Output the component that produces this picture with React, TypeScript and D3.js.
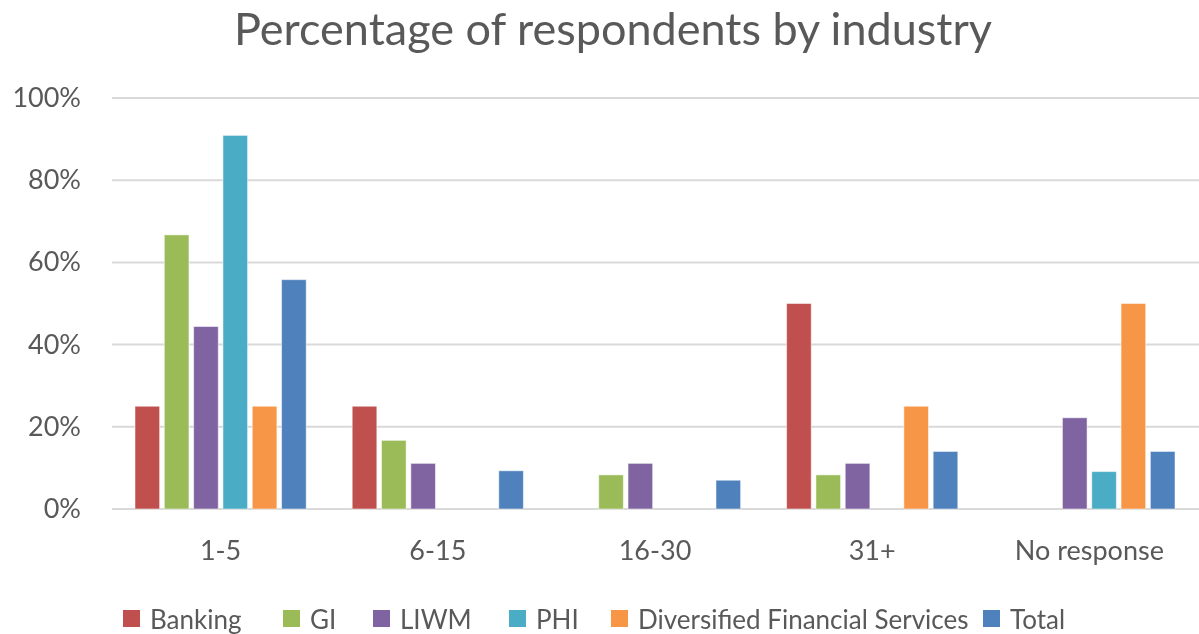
import React, { useEffect, useRef } from 'react';
import * as d3 from 'd3';

const categories = ['1-5', '6-15', '16-30', '31+', 'No response'];
const seriesNames = ['Banking', 'GI', 'LIWM', 'PHI', 'Diversified Financial Services', 'Total'];
const banking = [25, 25, 0, 50, 0];
const gi = [66.7, 16.7, 8.3, 8.3, 0];
const liwm = [44.4, 11.1, 11.1, 11.1, 22.2];
const phi = [90.9, 0, 0, 0, 9.1];
const dfs = [25, 0, 0, 25, 50];
const total = [55.8, 9.3, 7, 14, 14];
const yTicks = [0, 20, 40, 60, 80, 100];
const colors = ['#C0504D', '#9BBB59', '#8064A2', '#4BACC6', '#F79646', '#4F81BD'];

const W = 1199;
const H = 634;
const FONT = 'Lato, "Open Sans", sans-serif';
const TEXT = '#595959';
// legend item left edges, as laid out in the original
const legendX = [123, 283, 373, 509, 611, 983];

export default function App() {
  const ref = useRef<SVGSVGElement>(null);

  useEffect(() => {
    const svg = d3.select(ref.current);
    svg.selectAll('*').remove();

    const values = [banking, gi, liwm, phi, dfs, total];
    const margin = { top: 98, right: 1, bottom: 125, left: 112 };

    const x0 = d3.scaleBand<string>().domain(categories).range([margin.left, W - margin.right]);
    const step = x0.bandwidth();
    const x1 = d3.scaleBand<string>().domain(seriesNames).range([23, step - 23]).paddingInner(0.16);
    const y = d3.scaleLinear().domain([0, 100]).range([H - margin.bottom, margin.top]);

    svg.append('text')
      .attr('x', 613).attr('y', 45)
      .attr('text-anchor', 'middle')
      .attr('font-family', FONT).attr('font-size', 45)
      .attr('fill', TEXT)
      .text('Percentage of respondents by industry');

    // grid + y labels
    const grid = svg.append('g');
    yTicks.forEach(t => {
      grid.append('line')
        .attr('x1', margin.left).attr('x2', W)
        .attr('y1', y(t)).attr('y2', y(t))
        .attr('stroke', '#D9D9D9').attr('stroke-width', 2);
      grid.append('text')
        .attr('x', 81).attr('y', y(t) + 9)
        .attr('text-anchor', 'end')
        .attr('font-family', FONT).attr('font-size', 27)
        .attr('fill', TEXT)
        .text(t + '%');
    });

    // bars
    categories.forEach((c, ci) => {
      const g = svg.append('g').attr('transform', `translate(${x0(c)},0)`);
      seriesNames.forEach((s, si) => {
        const v = values[si][ci];
        if (!v) return;
        g.append('rect')
          .attr('x', x1(s)!)
          .attr('y', y(v))
          .attr('width', x1.bandwidth())
          .attr('height', y(0) - y(v))
          .attr('fill', colors[si])
          .attr('stroke', '#fff').attr('stroke-opacity', 0.5).attr('stroke-width', 1);
      });
      svg.append('text')
        .attr('x', x0(c)! + step / 2).attr('y', 560)
        .attr('text-anchor', 'middle')
        .attr('font-family', FONT).attr('font-size', 27)
        .attr('fill', TEXT)
        .text(c);
    });

    // legend
    const legend = svg.append('g');
    seriesNames.forEach((s, i) => {
      const item = legend.append('g').attr('transform', `translate(${legendX[i]},0)`);
      item.append('rect').attr('x', 0).attr('y', 610).attr('width', 17).attr('height', 17).attr('fill', colors[i]);
      item.append('text')
        .attr('x', 27).attr('y', 629)
        .attr('font-family', FONT).attr('font-size', 26)
        .attr('fill', TEXT)
        .text(s);
    });
  }, []);

  return (
    <div>
      <svg ref={ref} width={W} height={H} style={{ display: 'block', position: 'fixed', left: 0, top: 0 }} />
    </div>
  );
}
